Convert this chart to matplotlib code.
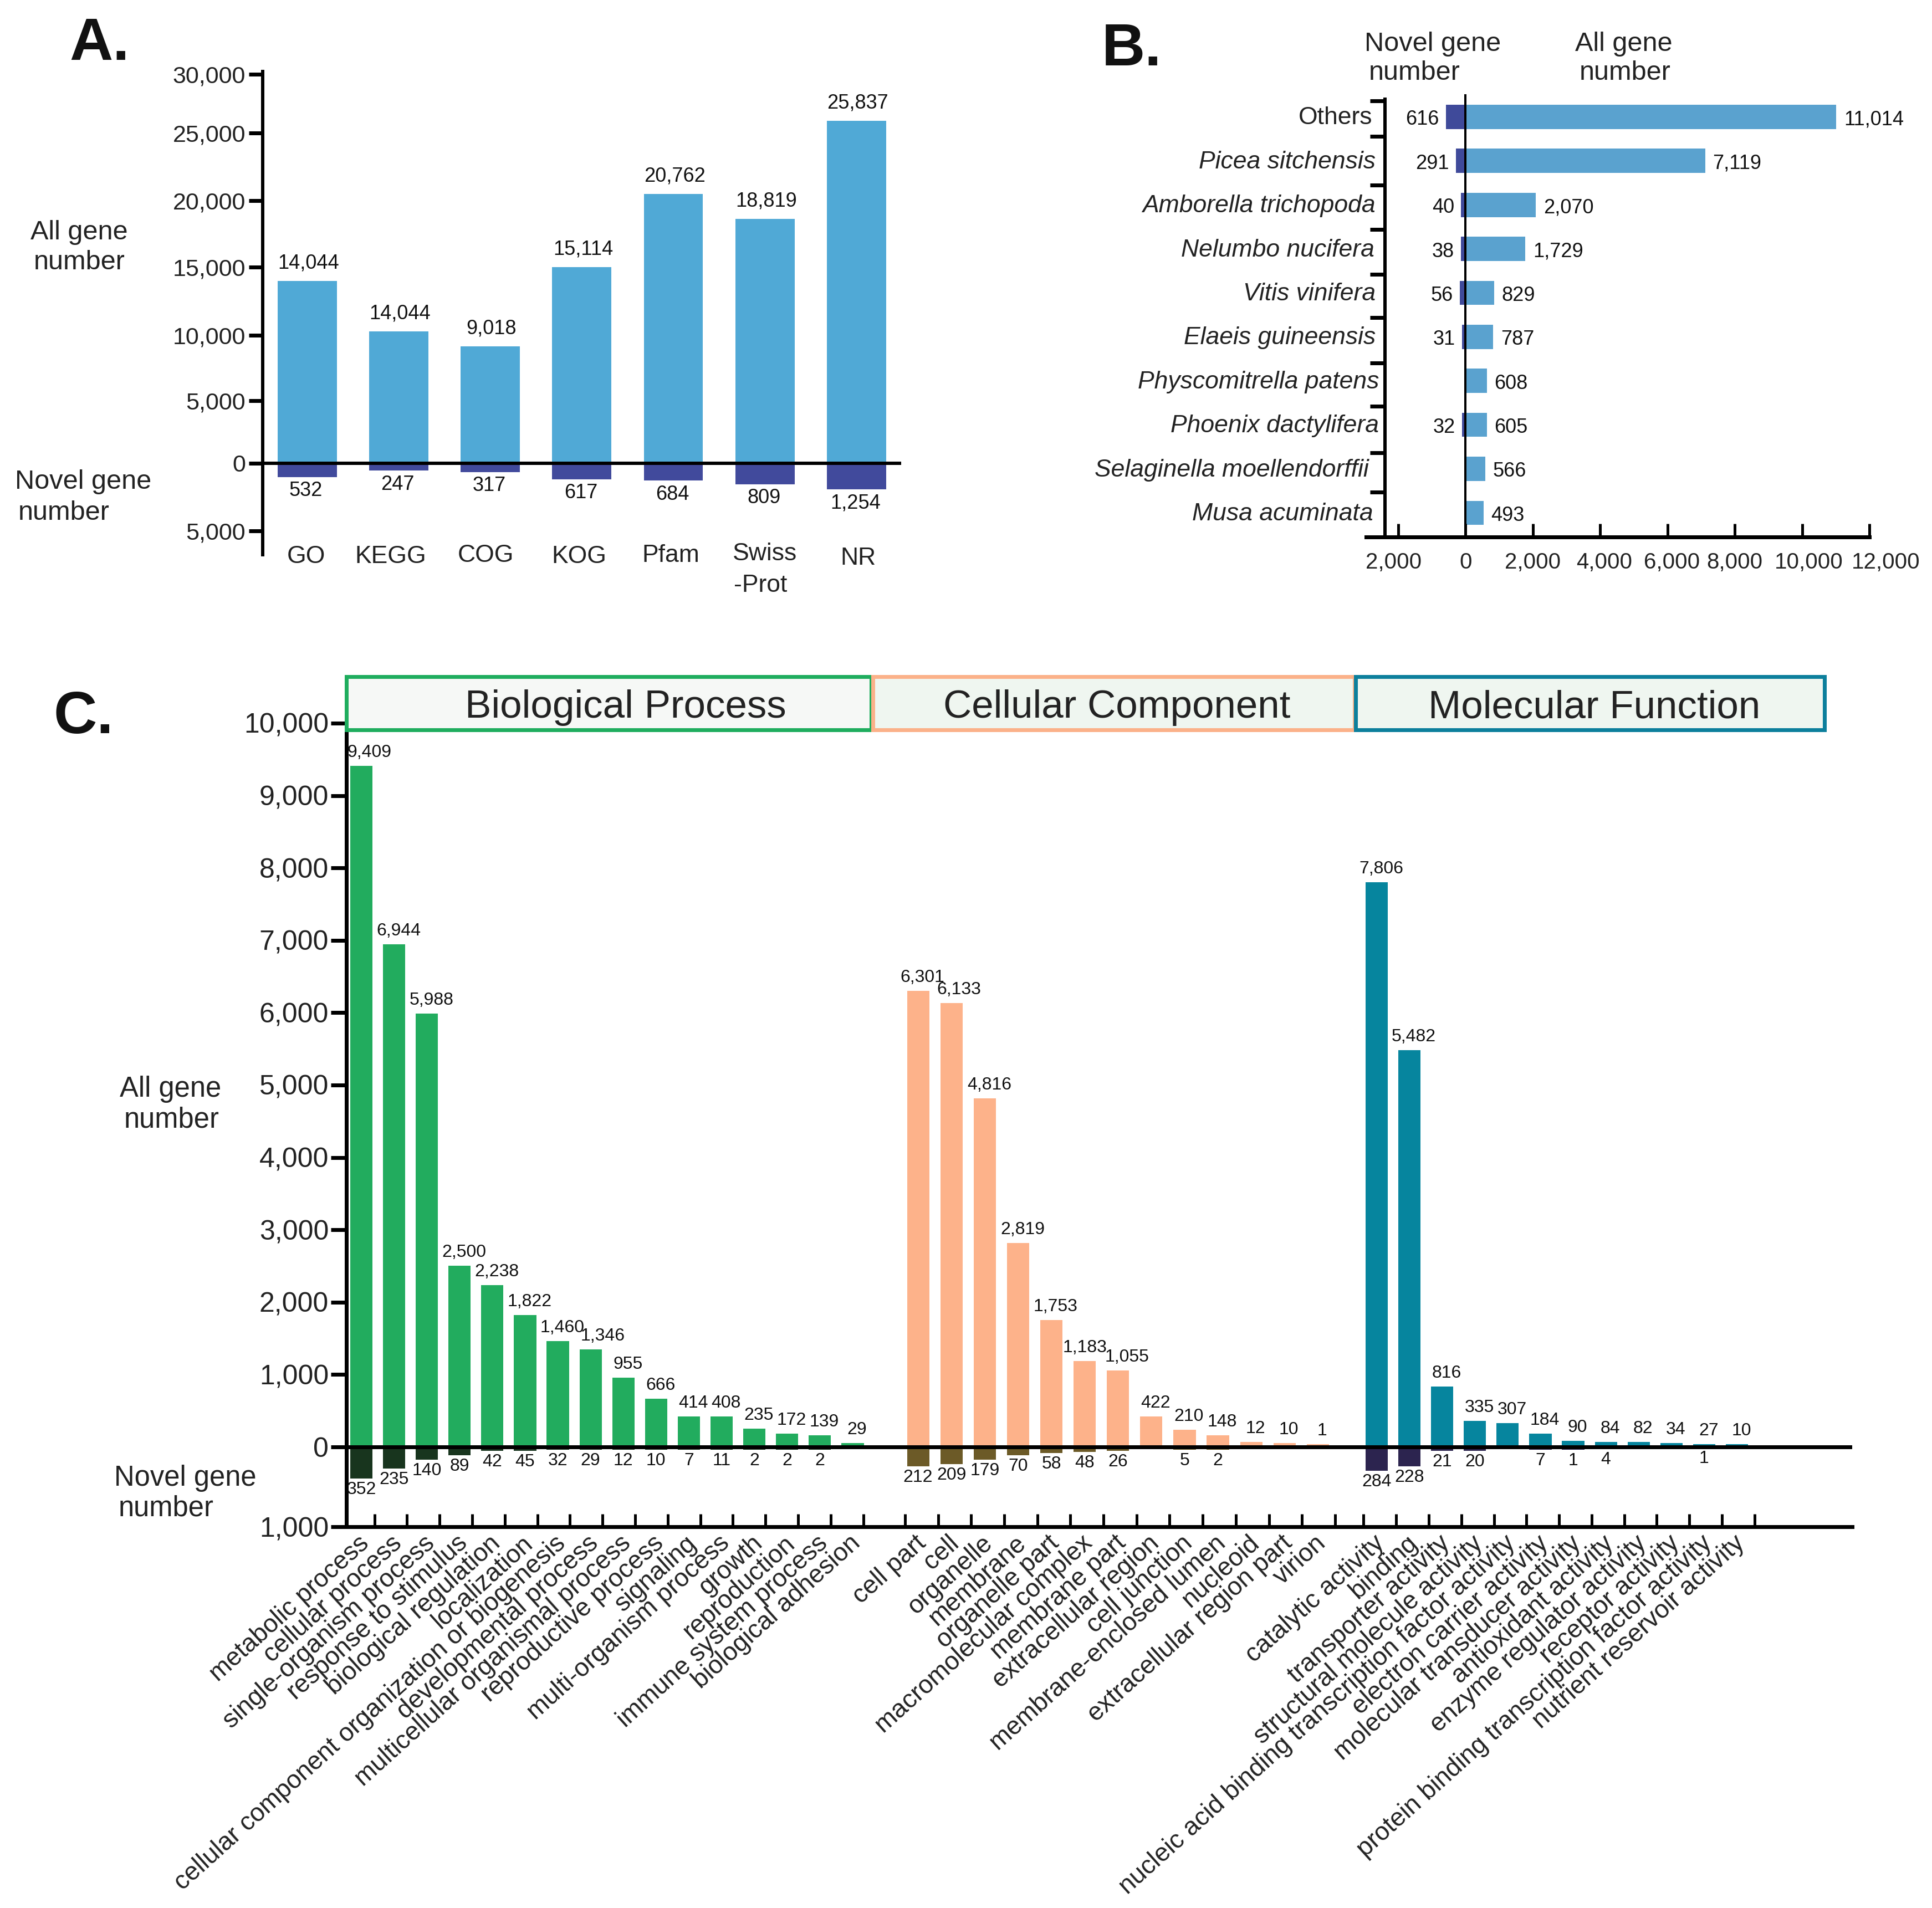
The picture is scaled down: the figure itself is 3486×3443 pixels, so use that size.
from matplotlib import pyplot as plt
from matplotlib.patches import Rectangle
import numpy as np

W, H = 3487, 3443
DPI = 100

# panel A
a_cats = ['GO', 'KEGG', 'COG', 'KOG', 'Pfam', 'Swiss\n-Prot', 'NR']
a_all_labels = [14044, 14044, 9018, 15114, 20762, 18819, 25837]
a_all_bars = [14044, 10150, 9018, 15114, 20762, 18819, 26400]
a_novel_labels = [532, 247, 317, 617, 684, 809, 1254]
a_novel_bars = [1050, 570, 670, 1230, 1330, 1620, 2000]
a_ticks = [30000, 25450, 20230, 15100, 9880, 4840, 0, -5220]
a_ticklabels = ['30,000', '25,000', '20,000', '15,000', '10,000', '5,000', '0',
                '5,000']

# panel B
b_species = ['Others', 'Picea sitchensis', 'Amborella trichopoda',
             'Nelumbo nucifera', 'Vitis vinifera', 'Elaeis guineensis',
             'Physcomitrella patens', 'Phoenix dactylifera',
             'Selaginella moellendorffii', 'Musa acuminata']
b_all_labels = [11014, 7119, 2070, 1729, 829, 787, 608, 605, 566, 493]
b_all_bars = [11014, 7119, 2083, 1783, 850, 817, 633, 633, 583, 533]
b_novel_labels = [616, 291, 40, 38, 56, 31, None, 32, None, None]
b_novel_bars = [580, 283, 133, 133, 167, 100, 0, 100, 0, 0]
b_ticks = [-2000, 0, 2000, 4000, 6000, 8000, 10000, 12000]
b_ticklabels = ['2,000', '0', '2,000', '4,000', '6,000', '8,000', '10,000',
                '12,000']

# panel C
bp_cats = ['metabolic process', 'cellular process', 'single-organism process',
           'response to stimulus', 'biological regulation', 'localization',
           'cellular component organization or biogenesis',
           'developmental process', 'multicellular organismal process',
           'reproductive process', 'signaling', 'multi-organism process',
           'growth', 'reproduction', 'immune system process',
           'biological adhesion']
bp_all = [9409, 6944, 5988, 2500, 2238, 1822, 1460, 1346, 955, 666, 414, 408,
          235, 172, 139, 29]
bp_all_bars = [9409, 6944, 5988, 2500, 2238, 1822, 1460, 1346, 955, 666, 424,
               424, 256, 184, 158, 51]
bp_novel = [352, 235, 140, 89, 42, 45, 32, 29, 12, 10, 7, 11, 2, 2, 2, None]
bp_novel_bars = [434, 296, 179, 112, 51, 51, 36, 36, 36, 36, 36, 36, 36, 36,
                 36, 0]

cc_cats = ['cell part', 'cell', 'organelle', 'membrane', 'organelle part',
           'macromolecular complex', 'membrane part', 'extracellular region',
           'cell junction', 'membrane-enclosed lumen', 'nucleoid',
           'extracellular region part', 'virion']
cc_all = [6301, 6133, 4816, 2819, 1753, 1183, 1055, 422, 210, 148, 12, 10, 1]
cc_all_bars = [6301, 6133, 4816, 2819, 1753, 1183, 1055, 424, 240, 158, 66, 51,
               36]
cc_novel = [212, 209, 179, 70, 58, 48, 26, None, 5, 2, None, None, None]
cc_novel_bars = [266, 240, 179, 112, 82, 66, 56, 0, 41, 41, 0, 0, 0]

mf_cats = ['catalytic activity', 'binding', 'transporter activity',
           'structural molecule activity',
           'nucleic acid binding transcription factor activity',
           'electron carrier activity', 'molecular transducer activity',
           'antioxidant activity', 'enzyme regulator activity',
           'receptor activity', 'protein binding transcription factor activity',
           'nutrient reservoir activity']
mf_all = [7806, 5482, 816, 335, 307, 184, 90, 84, 82, 34, 27, 10]
mf_all_bars = [7806, 5482, 833, 358, 327, 184, 87, 72, 72, 56, 41, 41]
mf_novel = [284, 228, 21, 20, None, 7, 1, 4, None, None, 1, None]
mf_novel_bars = [333, 266, 56, 56, 0, 36, 36, 20, 0, 0, 10, 0]

c_ticks = [10000, 9000, 8000, 7000, 6000, 5000, 4000, 3000, 2000, 1000, 0,
           -1103]
c_ticklabels = ['10,000', '9,000', '8,000', '7,000', '6,000', '5,000', '4,000',
                '3,000', '2,000', '1,000', '0', '1,000']

TEXT = '#222222'


def px_axes(fig, left, top, right, bottom):
    """axes box given in pixels of the reference, y counted from the top"""
    return fig.add_axes([left / W, 1 - bottom / H, (right - left) / W,
                         (bottom - top) / H])


def px_text(fig, x, y, s, size, **kw):
    kw.setdefault('color', TEXT)
    kw.setdefault('va', 'center')
    fig.text(x / W, 1 - (y + 5) / H, s, fontsize=size, **kw)


def px(n):
    """reference pixels to points"""
    return n * 72 / DPI


def value_label(ax, x, y, s, dx, dy, size, ha='center'):
    ax.annotate(s, (x, y), xytext=(px(dx), px(dy)),
                textcoords='offset points', ha=ha, va='center',
                fontsize=size, color='#111111', annotation_clip=False)


def clean_axes(ax):
    ax.spines[['top', 'right']].set_visible(False)
    ax.patch.set_alpha(0)


def panel_a(fig):
    ax = px_axes(fig, 474, 129, 1626, 1001)
    clean_axes(ax)
    x = np.arange(len(a_cats))
    ax.bar(x, a_all_bars, width=0.646, color='#50a9d6')
    ax.bar(x, -np.array(a_novel_bars), width=0.646, color='#414a9c')
    ax.axhline(0, color='black', lw=px(6), zorder=5)
    ax.set_xlim(-0.485, 6.487)
    ax.set_ylim(-7050, 30200)
    ax.spines['bottom'].set_visible(False)
    ax.spines['left'].set_linewidth(px(6))
    ax.set_xticks([])
    ax.set_yticks(a_ticks, a_ticklabels, fontsize=31, color=TEXT)
    ax.tick_params(axis='y', length=px(25), width=px(7), pad=px(6))
    for i in x:
        value_label(ax, i, a_all_bars[i], f'{a_all_labels[i]:,}', 2, 32, 26)
        value_label(ax, i, -a_novel_bars[i], f'{a_novel_labels[i]:,}', -2, -25,
                    26)
    label_x = [552, 705, 876, 1045, 1210, 1380, 1548]
    label_y = [1000, 1000, 998, 1000, 998, 995, 1003]
    for name, lx, ly in zip(a_cats, label_x, label_y):
        first = name.split('\n')[0]
        px_text(fig, lx, ly, first, 32, ha='center')
    px_text(fig, 1372, 1052, '-Prot', 32, ha='center')

    px_text(fig, 143, 414, 'All gene', 35, ha='center')
    px_text(fig, 143, 469, 'number', 35, ha='center')
    px_text(fig, 150, 865, 'Novel gene', 35, ha='center')
    px_text(fig, 115, 920, 'number', 35, ha='center')


def panel_b(fig):
    ax = px_axes(fig, 2465, 176, 3373, 969)
    clean_axes(ax)
    y = np.arange(len(b_species))
    ax.barh(y, b_all_bars, height=0.55, color='#5aa2cf')
    ax.barh(y, -np.array(b_novel_bars), height=0.55, color='#3f4a9a')
    ax.axvline(0, color='black', lw=px(4), zorder=5, ymax=1.005, clip_on=False)
    ax.axvline(-2390, color='black', lw=px(6), zorder=5)
    ax.set_xlim(-2950, 12000)
    ax.set_ylim(9.55, -0.44)
    ax.spines['left'].set_visible(False)
    ax.spines['bottom'].set_linewidth(px(7))
    ax.set_xticks(b_ticks, [''] * len(b_ticks))
    ax.tick_params(axis='x', length=px(24), width=px(5), direction='in')
    ax.set_yticks([])
    ticks_y = [-0.37, 0.44, 1.55, 2.56, 3.58, 4.56, 5.59, 6.58, 7.63, 8.53]
    ax.hlines(ticks_y, -2830, -2390, color='black', lw=px(7))

    shift = [-8, 0, 0, 8, 8, 0, 12, 30]
    for t, s, d in zip(b_ticks, b_ticklabels, shift):
        ax.annotate(s, (t, 9.55), xytext=(px(d), px(-46)),
                    textcoords='offset points', ha='center', va='center',
                    fontsize=29, color=TEXT, annotation_clip=False)
    for i in y:
        value_label(ax, b_all_bars[i], i, f'{b_all_labels[i]:,}', 14, -5, 26,
                    ha='left')
        if b_novel_labels[i] is not None:
            value_label(ax, -b_novel_bars[i], i, str(b_novel_labels[i]), -12,
                        -5, 26, ha='right')
    name_right = [2476, 2482, 2482, 2480, 2482, 2482, 2488, 2488, 2470, 2478]
    for i, name in enumerate(b_species):
        style = 'normal' if name == 'Others' else 'italic'
        py = 211 + i * 79.4 - 3
        px_text(fig, name_right[i], py, name, 32, ha='right', style=style)

    px_text(fig, 2462, 74, 'Novel gene', 35, ha='left')
    px_text(fig, 2470, 127, 'number', 35, ha='left')
    px_text(fig, 2930, 74, 'All gene', 35, ha='center')
    px_text(fig, 2932, 127, 'number', 35, ha='center')


def group_bars(ax, x, bars, novel_bars, labels, novels, color, dark, extra):
    ax.bar(x, bars, width=0.68, color=color)
    ax.bar(x, -np.array(novel_bars), width=0.68, color=dark)
    for i in range(len(x)):
        value_label(ax, x[i], bars[i], f'{labels[i]:,}', 8 + extra.get(i, 0),
                    24, 23)
        if novels[i] is not None:
            value_label(ax, x[i], -novel_bars[i], str(novels[i]), 0, -20, 23)


def panel_c(fig):
    ax = px_axes(fig, 625, 1221, 3342, 2755)
    clean_axes(ax)
    bp_x = np.arange(len(bp_cats), dtype=float)
    cc_x = 17 + np.arange(len(cc_cats)) * 1.017
    mf_x = 31 + np.arange(len(mf_cats), dtype=float)
    group_bars(ax, bp_x, bp_all_bars, bp_novel_bars, bp_all, bp_novel,
               '#22ac5e', '#18351e', {0: 6, 7: 14})
    group_bars(ax, cc_x, cc_all_bars, cc_novel_bars, cc_all, cc_novel,
               '#fdb28a', '#6c5a27', {1: 6, 5: -8, 6: 8})
    group_bars(ax, mf_x, mf_all_bars, mf_novel_bars, mf_all, mf_novel,
               '#06859e', '#2c244f', {})
    ax.axhline(0, color='black', lw=px(7), zorder=5)
    ax.set_xlim(-0.457, 45.52)
    ax.set_ylim(-1103, 10643)
    ax.spines['left'].set_linewidth(px(7))
    ax.spines['bottom'].set_linewidth(px(7))
    ax.set_yticks(c_ticks, c_ticklabels, fontsize=36, color=TEXT)
    ax.tick_params(axis='y', length=px(28), width=px(7), pad=px(4))
    tick_x = np.concatenate([0.4 + np.arange(16) * 0.995,
                             16.6 + np.arange(14) * 1.01,
                             30.6 + np.arange(13) * 0.995])
    ax.set_xticks(tick_x, [''] * len(tick_x))
    ax.tick_params(axis='x', length=px(23), width=px(5), direction='in')

    names = bp_cats + cc_cats + mf_cats
    xs = np.concatenate([bp_x, cc_x, mf_x])
    for name, lx in zip(names, xs):
        ax.annotate(name, (lx, -1103), xytext=(px(8), px(-24)),
                    textcoords='offset points', ha='right', va='center',
                    rotation=42, rotation_mode='anchor', fontsize=33,
                    color=TEXT, annotation_clip=False)

    boxes = [(625, 1572, '#f6f8f6', '#1fad5e', 'Biological Process', 30),
             (1575, 2444, '#eff6f0', '#fbb189', 'Cellular Component', 6),
             (2446, 3292, '#eff6f0', '#0c7f9c', 'Molecular Function', 8)]
    for left, right, fill, edge, title, nudge in boxes:
        fig.add_artist(Rectangle((left / W, 1 - 1317 / H), (right - left) / W,
                                 96 / H, transform=fig.transFigure,
                                 facecolor=fill, edgecolor=edge, lw=px(7),
                                 zorder=5))
        fig.text(((left + right) / 2 + nudge) / W, 1 - 1277 / H, title,
                 fontsize=51, color=TEXT, ha='center', va='center', zorder=6)

    px_text(fig, 308, 1961, 'All gene', 36.5, ha='center')
    px_text(fig, 310, 2016, 'number', 36.5, ha='center')
    px_text(fig, 334, 2662, 'Novel gene', 36.5, ha='center')
    px_text(fig, 300, 2717, 'number', 36.5, ha='center')


def main():
    plt.rcParams['font.family'] = ['Liberation Sans', 'DejaVu Sans']
    fig = plt.figure(figsize=(W / DPI, H / DPI), dpi=DPI, facecolor='white')
    panel_a(fig)
    panel_b(fig)
    panel_c(fig)
    for s, x, y in [('A.', 125, 75), ('B.', 1988, 85), ('C.', 97, 1290)]:
        px_text(fig, x, y, s, 78, weight='bold', color='#111111')
    fig.savefig('out.png', dpi=DPI)


if __name__ == "__main__":
    main()
